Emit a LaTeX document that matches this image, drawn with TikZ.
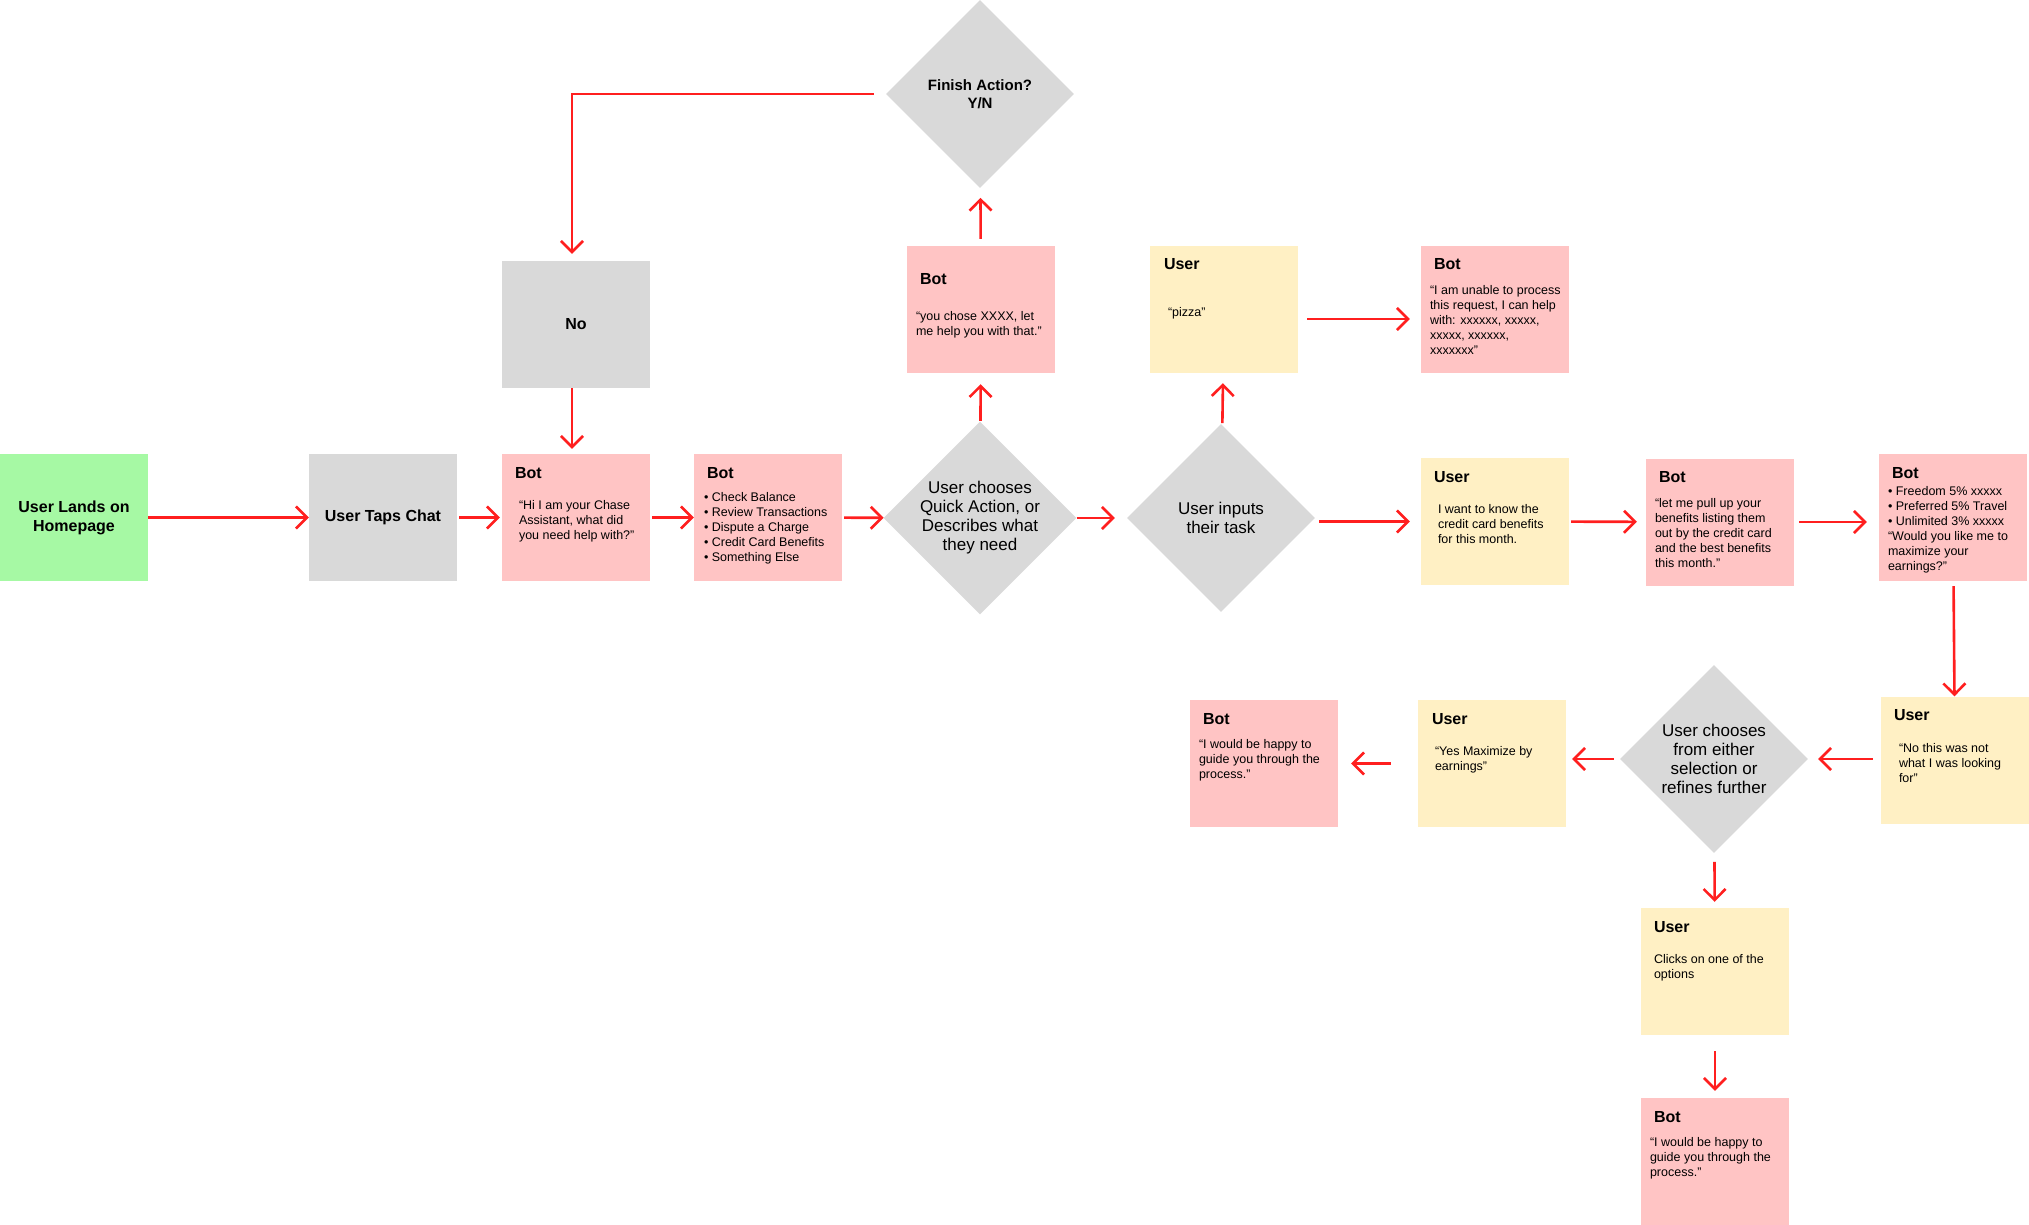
\documentclass[tikz,border=0pt]{standalone}
\usepackage{fontspec}
\setmainfont{Liberation Sans}
\usepackage{tikz}
\usetikzlibrary{arrows.meta, positioning, shapes.geometric, calc}
\definecolor{startgreen}{HTML}{A6F9A4}
\definecolor{stepgray}{HTML}{D9D9D9}
\definecolor{botpink}{HTML}{FFC4C4}
\definecolor{useryellow}{HTML}{FFF0C4}
\definecolor{flowred}{HTML}{FF1F1F}

\begin{document}
\begin{tikzpicture}[x=1pt, y=-1pt,
        >={Straight Barb[length=11pt, width=22pt]},
        card/.style={rectangle, inner sep=0pt, minimum width=148pt, minimum height=127pt},
        bot/.style={card, fill=botpink},
        user/.style={card, fill=useryellow},
        plain/.style={card, fill=stepgray, align=center, font=\fontsize{16}{19}\selectfont\bfseries},
        choice/.style={diamond, aspect=1, inner sep=0pt, minimum width=188pt, minimum height=188pt,
                       fill=stepgray, align=center, font=\fontsize{17}{19}\selectfont},
        who/.style={anchor=west, inner sep=0pt, font=\fontsize{16}{19}\selectfont\bfseries},
        said/.style={anchor=north west, inner sep=0pt, align=left, font=\fontsize{12.5}{15}\selectfont,
                     execute at begin node=\strut},
        arr/.style={->, line width=2.6pt, draw=flowred},
    ]
    \useasboundingbox (0,0) rectangle (2029,1225);

    % ---- Main row ----
    \node[plain, fill=startgreen] (land) at (74, 517.5) {User Lands on\\Homepage};
    \node[plain] (taps) at (383, 517.5) {User Taps Chat};

    \node[bot] (hello) at (576, 517.5) {};
    \node[who] (hellot) at ([shift={(13,19)}]hello.north west) {Bot};
    \node[said] (hellox) at ([shift={(17,46.5)}]hello.north west)
        {“Hi I am your Chase\\Assistant, what did\\you need help with?”};

    \node[bot] (menu) at (768, 517.5) {};
    \node[who] (menut) at ([shift={(13,19)}]menu.north west) {Bot};
    \node[said] (menux) at ([shift={(10,38.5)}]menu.north west)
        {• Check Balance\\• Review Transactions\\• Dispute a Charge\\• Credit Card Benefits\\• Something Else};

    \node[choice] (pick) at (980, 518) {User chooses\\Quick Action, or\\Describes what\\they need};
    \node[choice] (typed) at (1221, 518) {User inputs\\their task};

    % ---- Quick action branch ----
    \node[bot] (chose) at (981, 309.5) {};
    \node[who] (choset) at ([shift={(13,33)}]chose.north west) {Bot};
    \node[said] (chosex) at ([shift={(9,65.5)}]chose.north west)
        {“you chose XXXX, let\\me help you with that.”};

    \node[choice, font=\fontsize{15}{18}\selectfont\bfseries] (finish) at (980, 94) {Finish Action?\\Y/N};
    \node[plain] (no) at (576, 324.5) {No};

    % ---- Unknown task branch ----
    \node[user] (pizza) at (1224, 309.5) {};
    \node[who] (pizzat) at ([shift={(14,18)}]pizza.north west) {User};
    \node[said] (pizzax) at ([shift={(18,59.5)}]pizza.north west) {“pizza”};

    \node[bot] (unable) at (1495, 309.5) {};
    \node[who] (unablet) at ([shift={(13,18)}]unable.north west) {Bot};
    \node[said] (unablex) at ([shift={(9,39.5)}]unable.north west)
        {“I am unable to process\\this request, I can help\\with: xxxxxx, xxxxx,\\xxxxx, xxxxxx,\\xxxxxxx”};

    % ---- Benefits branch ----
    \node[user] (want) at (1495, 521.5) {};
    \node[who] (wantt) at ([shift={(13,19)}]want.north west) {User};
    \node[said] (wantx) at ([shift={(17,46.5)}]want.north west)
        {I want to know the\\credit card benefits\\for this month.};

    \node[bot] (pull) at (1720, 522) {};
    \node[who] (pullt) at ([shift={(13,19)}]pull.north west) {Bot};
    \node[said] (pullx) at ([shift={(9,39.5)}]pull.north west)
        {“let me pull up your\\benefits listing them\\out by the credit card\\and the best benefits\\this month.”};

    \node[bot] (cards) at (1953, 517.5) {};
    \node[who] (cardst) at ([shift={(13,19)}]cards.north west) {Bot};
    \node[said] (cardsx) at ([shift={(9,32.5)}]cards.north west)
        {• Freedom 5\% xxxxx\\• Preferred 5\% Travel\\• Unlimited 3\% xxxxx\\“Would you like me to\\maximize your\\earnings?”};

    \node[user] (notit) at (1955, 760) {};
    \node[who] (notitt) at ([shift={(13,19)}]notit.north west) {User};
    \node[said] (notitx) at ([shift={(18,46.5)}]notit.north west)
        {“No this was not\\what I was looking\\for”};

    \node[choice] (refine) at (1714, 759) {User chooses\\from either\\selection or\\refines further};

    \node[user] (yes) at (1492, 763.5) {};
    \node[who] (yest) at ([shift={(14,19)}]yes.north west) {User};
    \node[said] (yesx) at ([shift={(17,46.5)}]yes.north west) {“Yes Maximize by\\earnings”};

    \node[bot] (guide) at (1264, 763.5) {};
    \node[who] (guidet) at ([shift={(13,19)}]guide.north west) {Bot};
    \node[said] (guidex) at ([shift={(9,39.5)}]guide.north west)
        {“I would be happy to\\guide you through the\\process.”};

    \node[user] (clicks) at (1715, 971.5) {};
    \node[who] (clickst) at ([shift={(13,19)}]clicks.north west) {User};
    \node[said] (clicksx) at ([shift={(13,46.5)}]clicks.north west) {Clicks on one of the\\options};

    \node[bot] (guide2) at (1715, 1161.5) {};
    \node[who] (guide2t) at ([shift={(13,19)}]guide2.north west) {Bot};
    \node[said] (guide2x) at ([shift={(9,39.5)}]guide2.north west)
        {“I would be happy to\\guide you through the\\process.”};

    % ---- Connectors ----
    \draw[arr] (land) -- (taps);
    \draw[arr, shorten <=2pt, shorten >=2pt] (taps) -- (hello);
    \draw[arr, shorten <=2pt] (hello) -- (menu);
    \draw[arr, shorten <=2pt] (menu) -- (pick);
    \draw[arr, shorten >=12pt] (pick) -- (typed);
    \draw[arr, shorten <=4pt, shorten >=11pt] (typed.east |- want) -- (want);
    \draw[arr, shorten <=2pt, shorten >=9pt] (want) -- (pull);
    \draw[arr, shorten <=5pt, shorten >=12pt] (pull) -- (cards.west |- pull);
    \draw[arr, shorten <=5pt] (cards) -- (notit);
    \draw[arr, shorten <=8pt, shorten >=10pt] (notit.west |- refine) -- (refine);
    \draw[arr, shorten <=6pt, shorten >=6pt] (refine) -- (yes.east |- refine);
    \draw[arr, shorten <=27pt, shorten >=13pt] (yes) -- (guide);
    \draw[arr, shorten <=9pt, shorten >=6pt] (refine) -- (clicks);
    \draw[arr, shorten <=16pt, shorten >=7pt] (clicks) -- (guide2);

    \draw[arr, shorten <=1pt, shorten >=11pt] (pick) -- (chose);
    \draw[arr, shorten <=7pt, shorten >=10pt] (chose) -- (finish);
    \draw[arr, shorten <=12pt, shorten >=7pt] (finish.west) -| ([xshift=-4pt]no.north);
    \draw[arr, shorten >=5pt] ([xshift=-4pt]no.south) -- ([xshift=-4pt]hello.north);

    \draw[arr, shorten <=2pt, shorten >=10pt] (typed) -- (pizza);
    \draw[arr, shorten <=9pt, shorten >=11pt] ([yshift=-9.5pt]pizza.east) -- ([yshift=-9.5pt]unable.west);

    \end{tikzpicture}
\end{document}
